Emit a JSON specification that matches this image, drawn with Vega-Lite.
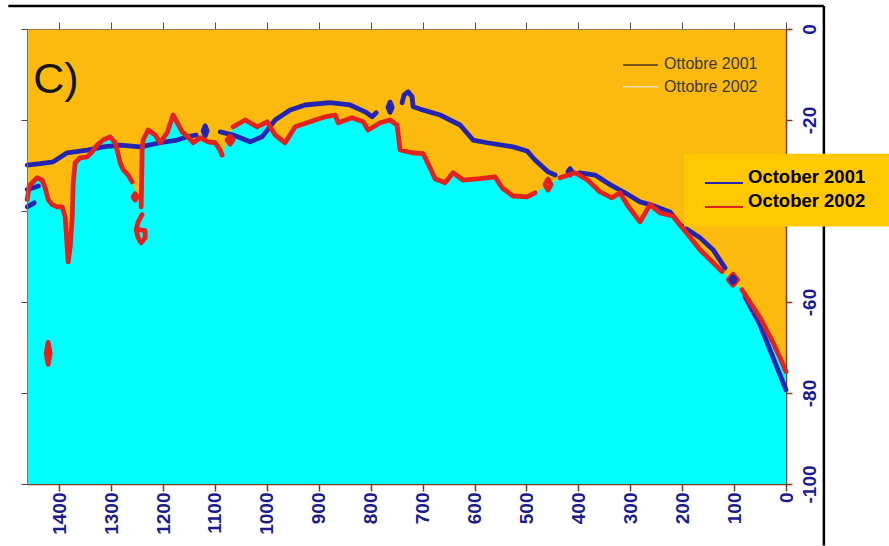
{
  "$schema": "https://vega.github.io/schema/vega-lite/v6.json",
  "width": 759,
  "height": 455,
  "autosize": {"type": "none"},
  "padding": {"left": 27, "top": 29, "right": 103, "bottom": 62},
  "background": "#ffffff",
  "config": {"view": {"fill": "#FCBA0E", "stroke": null}, "font": "Liberation Sans"},
  "datasets": {
    "profile": [
      {"s": "October 2001", "seg": "b1", "k": "main", "i": 0, "d": 1461.6, "z": -29.9},
      {"s": "October 2001", "seg": "b1", "k": "main", "i": 1, "d": 1436.6, "z": -29.6},
      {"s": "October 2001", "seg": "b1", "k": "main", "i": 2, "d": 1411.5, "z": -29.2},
      {"s": "October 2001", "seg": "b1", "k": "main", "i": 3, "d": 1384.6, "z": -27.2},
      {"s": "October 2001", "seg": "b1", "k": "main", "i": 4, "d": 1346.1, "z": -26.6},
      {"s": "October 2001", "seg": "b1", "k": "main", "i": 5, "d": 1315.3, "z": -25.9},
      {"s": "October 2001", "seg": "b1", "k": "main", "i": 6, "d": 1282.5, "z": -25.5},
      {"s": "October 2001", "seg": "b1", "k": "main", "i": 7, "d": 1244.0, "z": -25.9},
      {"s": "October 2001", "seg": "b1", "k": "main", "i": 8, "d": 1205.5, "z": -25.0},
      {"s": "October 2001", "seg": "b1", "k": "main", "i": 9, "d": 1172.8, "z": -24.4},
      {"s": "October 2001", "seg": "b1", "k": "main", "i": 10, "d": 1153.5, "z": -23.7},
      {"s": "October 2001", "seg": "b1", "k": "main", "i": 11, "d": 1136.2, "z": -23.3},
      {"s": "October 2001", "seg": "b2", "k": "main", "i": 0, "d": 1089.9, "z": -22.6},
      {"s": "October 2001", "seg": "b2", "k": "main", "i": 1, "d": 1064.9, "z": -23.3},
      {"s": "October 2001", "seg": "b2", "k": "main", "i": 2, "d": 1032.2, "z": -24.8},
      {"s": "October 2001", "seg": "b2", "k": "main", "i": 3, "d": 1009.1, "z": -23.7},
      {"s": "October 2001", "seg": "b2", "k": "main", "i": 4, "d": 984.0, "z": -20.0},
      {"s": "October 2001", "seg": "b2", "k": "main", "i": 5, "d": 955.1, "z": -17.8},
      {"s": "October 2001", "seg": "b2", "k": "main", "i": 6, "d": 926.3, "z": -16.7},
      {"s": "October 2001", "seg": "b2", "k": "main", "i": 7, "d": 878.1, "z": -16.2},
      {"s": "October 2001", "seg": "b2", "k": "main", "i": 8, "d": 839.6, "z": -16.7},
      {"s": "October 2001", "seg": "b2", "k": "main", "i": 9, "d": 810.7, "z": -18.2},
      {"s": "October 2001", "seg": "b2", "k": "main", "i": 10, "d": 797.2, "z": -19.3},
      {"s": "October 2001", "seg": "b2", "k": "main", "i": 11, "d": 789.5, "z": -18.4},
      {"s": "October 2001", "seg": "b3", "k": "main", "i": 0, "d": 739.5, "z": -16.2},
      {"s": "October 2001", "seg": "b3", "k": "main", "i": 1, "d": 735.6, "z": -14.5},
      {"s": "October 2001", "seg": "b3", "k": "main", "i": 2, "d": 727.9, "z": -13.8},
      {"s": "October 2001", "seg": "b3", "k": "main", "i": 3, "d": 720.2, "z": -14.9},
      {"s": "October 2001", "seg": "b3", "k": "main", "i": 4, "d": 718.3, "z": -17.1},
      {"s": "October 2001", "seg": "b3", "k": "main", "i": 5, "d": 704.8, "z": -17.6},
      {"s": "October 2001", "seg": "b3", "k": "main", "i": 6, "d": 666.3, "z": -18.9},
      {"s": "October 2001", "seg": "b3", "k": "main", "i": 7, "d": 627.8, "z": -21.1},
      {"s": "October 2001", "seg": "b3", "k": "main", "i": 8, "d": 602.7, "z": -24.4},
      {"s": "October 2001", "seg": "b3", "k": "main", "i": 9, "d": 575.8, "z": -25.0},
      {"s": "October 2001", "seg": "b3", "k": "main", "i": 10, "d": 525.7, "z": -25.9},
      {"s": "October 2001", "seg": "b3", "k": "main", "i": 11, "d": 498.8, "z": -26.8},
      {"s": "October 2001", "seg": "b3", "k": "main", "i": 12, "d": 483.4, "z": -28.8},
      {"s": "October 2001", "seg": "b3", "k": "main", "i": 13, "d": 458.3, "z": -31.4},
      {"s": "October 2001", "seg": "b3", "k": "main", "i": 14, "d": 444.8, "z": -32.1},
      {"s": "October 2001", "seg": "b4", "k": "main", "i": 0, "d": 396.7, "z": -31.6},
      {"s": "October 2001", "seg": "b4", "k": "main", "i": 1, "d": 367.8, "z": -32.1},
      {"s": "October 2001", "seg": "b4", "k": "main", "i": 2, "d": 338.9, "z": -34.2},
      {"s": "October 2001", "seg": "b4", "k": "main", "i": 3, "d": 310.0, "z": -36.0},
      {"s": "October 2001", "seg": "b4", "k": "main", "i": 4, "d": 281.2, "z": -38.0},
      {"s": "October 2001", "seg": "b4", "k": "main", "i": 5, "d": 261.9, "z": -38.6},
      {"s": "October 2001", "seg": "b4", "k": "main", "i": 6, "d": 223.4, "z": -40.2},
      {"s": "October 2001", "seg": "b4", "k": "main", "i": 7, "d": 204.1, "z": -43.0},
      {"s": "October 2001", "seg": "b4", "k": "main", "i": 8, "d": 165.6, "z": -45.9},
      {"s": "October 2001", "seg": "b4", "k": "main", "i": 9, "d": 140.6, "z": -48.5},
      {"s": "October 2001", "seg": "b4", "k": "main", "i": 10, "d": 117.5, "z": -52.5},
      {"s": "October 2001", "seg": "b5", "k": "main", "i": 0, "d": 79.0, "z": -58.8},
      {"s": "October 2001", "seg": "b5", "k": "main", "i": 1, "d": 50.1, "z": -65.0},
      {"s": "October 2001", "seg": "b5", "k": "main", "i": 2, "d": 30.8, "z": -70.5},
      {"s": "October 2001", "seg": "b5", "k": "main", "i": 3, "d": 15.4, "z": -74.9},
      {"s": "October 2001", "seg": "b5", "k": "main", "i": 4, "d": 0, "z": -79.3},
      {"s": "October 2001", "seg": "bl1", "k": "bit", "i": 0, "d": 1461.6, "z": -35.3},
      {"s": "October 2001", "seg": "bl1", "k": "bit", "i": 1, "d": 1450.1, "z": -34.9},
      {"s": "October 2001", "seg": "bl1", "k": "bit", "i": 2, "d": 1440.0, "z": -34.5},
      {"s": "October 2001", "seg": "bl2", "k": "bit", "i": 0, "d": 1461.6, "z": -39.1},
      {"s": "October 2001", "seg": "bl2", "k": "bit", "i": 1, "d": 1448.1, "z": -38.2},
      {"s": "October 2001", "seg": "B1", "k": "bit", "i": 0, "d": 1118.8, "z": -21.3},
      {"s": "October 2001", "seg": "B1", "k": "bit", "i": 1, "d": 1114.9, "z": -22.4},
      {"s": "October 2001", "seg": "B1", "k": "bit", "i": 2, "d": 1118.8, "z": -23.5},
      {"s": "October 2001", "seg": "B1", "k": "bit", "i": 3, "d": 1122.7, "z": -22.4},
      {"s": "October 2001", "seg": "B1", "k": "bit", "i": 4, "d": 1118.8, "z": -21.3},
      {"s": "October 2001", "seg": "B2", "k": "bit", "i": 0, "d": 762.6, "z": -16.1},
      {"s": "October 2001", "seg": "B2", "k": "bit", "i": 1, "d": 758.6, "z": -17.2},
      {"s": "October 2001", "seg": "B2", "k": "bit", "i": 2, "d": 762.6, "z": -18.3},
      {"s": "October 2001", "seg": "B2", "k": "bit", "i": 3, "d": 766.6, "z": -17.2},
      {"s": "October 2001", "seg": "B2", "k": "bit", "i": 4, "d": 762.6, "z": -16.1},
      {"s": "October 2001", "seg": "B3", "k": "bit", "i": 0, "d": 416.0, "z": -30.7},
      {"s": "October 2001", "seg": "B3", "k": "bit", "i": 1, "d": 412.0, "z": -31.4},
      {"s": "October 2001", "seg": "B3", "k": "bit", "i": 2, "d": 416.0, "z": -32.1},
      {"s": "October 2001", "seg": "B3", "k": "bit", "i": 3, "d": 420.0, "z": -31.4},
      {"s": "October 2001", "seg": "B3", "k": "bit", "i": 4, "d": 416.0, "z": -30.7},
      {"s": "October 2002", "seg": "r1", "k": "main", "i": 0, "d": 1461.6, "z": -37.5},
      {"s": "October 2002", "seg": "r1", "k": "main", "i": 1, "d": 1457.8, "z": -34.5},
      {"s": "October 2002", "seg": "r1", "k": "main", "i": 2, "d": 1442.3, "z": -32.7},
      {"s": "October 2002", "seg": "r1", "k": "main", "i": 3, "d": 1432.7, "z": -33.2},
      {"s": "October 2002", "seg": "r1", "k": "main", "i": 4, "d": 1426.9, "z": -34.9},
      {"s": "October 2002", "seg": "r1", "k": "main", "i": 5, "d": 1421.2, "z": -37.5},
      {"s": "October 2002", "seg": "r1", "k": "main", "i": 6, "d": 1413.5, "z": -38.6},
      {"s": "October 2002", "seg": "r1", "k": "main", "i": 7, "d": 1403.8, "z": -39.1},
      {"s": "October 2002", "seg": "r1", "k": "main", "i": 8, "d": 1394.2, "z": -39.1},
      {"s": "October 2002", "seg": "r1", "k": "main", "i": 9, "d": 1388.4, "z": -41.3},
      {"s": "October 2002", "seg": "r1", "k": "main", "i": 10, "d": 1382.6, "z": -51.2},
      {"s": "October 2002", "seg": "r1", "k": "main", "i": 11, "d": 1378.8, "z": -47.9},
      {"s": "October 2002", "seg": "r1", "k": "main", "i": 12, "d": 1374.9, "z": -41.3},
      {"s": "October 2002", "seg": "r1", "k": "main", "i": 13, "d": 1373.0, "z": -33.8},
      {"s": "October 2002", "seg": "r1", "k": "main", "i": 14, "d": 1369.2, "z": -29.4},
      {"s": "October 2002", "seg": "r1", "k": "main", "i": 15, "d": 1359.5, "z": -28.3},
      {"s": "October 2002", "seg": "r1", "k": "main", "i": 16, "d": 1346.1, "z": -28.1},
      {"s": "October 2002", "seg": "r1", "k": "main", "i": 17, "d": 1336.4, "z": -27.0},
      {"s": "October 2002", "seg": "r1", "k": "main", "i": 18, "d": 1326.8, "z": -25.5},
      {"s": "October 2002", "seg": "r1", "k": "main", "i": 19, "d": 1315.3, "z": -24.4},
      {"s": "October 2002", "seg": "r1", "k": "main", "i": 20, "d": 1301.8, "z": -23.7},
      {"s": "October 2002", "seg": "r1", "k": "main", "i": 21, "d": 1292.1, "z": -25.0},
      {"s": "October 2002", "seg": "r1", "k": "main", "i": 22, "d": 1288.3, "z": -26.6},
      {"s": "October 2002", "seg": "r1", "k": "main", "i": 23, "d": 1282.5, "z": -29.4},
      {"s": "October 2002", "seg": "r1", "k": "main", "i": 24, "d": 1276.7, "z": -30.9},
      {"s": "October 2002", "seg": "r1", "k": "main", "i": 25, "d": 1267.1, "z": -32.1},
      {"s": "October 2002", "seg": "r1", "k": "main", "i": 26, "d": 1259.4, "z": -33.6},
      {"s": "October 2002", "seg": "r2", "k": "main", "i": 0, "d": 1242.1, "z": -39.1},
      {"s": "October 2002", "seg": "r2", "k": "main", "i": 1, "d": 1240.2, "z": -26.6},
      {"s": "October 2002", "seg": "r2", "k": "main", "i": 2, "d": 1238.2, "z": -24.4},
      {"s": "October 2002", "seg": "r2", "k": "main", "i": 3, "d": 1228.6, "z": -22.2},
      {"s": "October 2002", "seg": "r2", "k": "main", "i": 4, "d": 1215.1, "z": -23.3},
      {"s": "October 2002", "seg": "r2", "k": "main", "i": 5, "d": 1205.5, "z": -25.0},
      {"s": "October 2002", "seg": "r2", "k": "main", "i": 6, "d": 1192.0, "z": -22.8},
      {"s": "October 2002", "seg": "r2", "k": "main", "i": 7, "d": 1180.5, "z": -18.9},
      {"s": "October 2002", "seg": "r2", "k": "main", "i": 8, "d": 1163.1, "z": -22.6},
      {"s": "October 2002", "seg": "r2", "k": "main", "i": 9, "d": 1151.6, "z": -23.7},
      {"s": "October 2002", "seg": "r2", "k": "main", "i": 10, "d": 1141.9, "z": -25.0},
      {"s": "October 2002", "seg": "r2", "k": "main", "i": 11, "d": 1128.5, "z": -23.9},
      {"s": "October 2002", "seg": "r2", "k": "main", "i": 12, "d": 1113.1, "z": -24.8},
      {"s": "October 2002", "seg": "r2", "k": "main", "i": 13, "d": 1099.6, "z": -25.0},
      {"s": "October 2002", "seg": "r2", "k": "main", "i": 14, "d": 1089.9, "z": -26.6},
      {"s": "October 2002", "seg": "r2", "k": "main", "i": 15, "d": 1086.1, "z": -27.7},
      {"s": "October 2002", "seg": "r3", "k": "main", "i": 0, "d": 1064.9, "z": -21.5},
      {"s": "October 2002", "seg": "r3", "k": "main", "i": 1, "d": 1041.8, "z": -20.0},
      {"s": "October 2002", "seg": "r3", "k": "main", "i": 2, "d": 1018.7, "z": -21.5},
      {"s": "October 2002", "seg": "r3", "k": "main", "i": 3, "d": 999.4, "z": -20.4},
      {"s": "October 2002", "seg": "r3", "k": "main", "i": 4, "d": 984.0, "z": -23.3},
      {"s": "October 2002", "seg": "r3", "k": "main", "i": 5, "d": 964.8, "z": -25.0},
      {"s": "October 2002", "seg": "r3", "k": "main", "i": 6, "d": 945.5, "z": -21.5},
      {"s": "October 2002", "seg": "r3", "k": "main", "i": 7, "d": 916.6, "z": -20.4},
      {"s": "October 2002", "seg": "r3", "k": "main", "i": 8, "d": 887.7, "z": -19.3},
      {"s": "October 2002", "seg": "r3", "k": "main", "i": 9, "d": 868.5, "z": -18.9},
      {"s": "October 2002", "seg": "r3", "k": "main", "i": 10, "d": 862.7, "z": -20.6},
      {"s": "October 2002", "seg": "r3", "k": "main", "i": 11, "d": 835.8, "z": -19.5},
      {"s": "October 2002", "seg": "r3", "k": "main", "i": 12, "d": 814.6, "z": -20.4},
      {"s": "October 2002", "seg": "r3", "k": "main", "i": 13, "d": 804.9, "z": -22.2},
      {"s": "October 2002", "seg": "r3", "k": "main", "i": 14, "d": 781.8, "z": -20.6},
      {"s": "October 2002", "seg": "r3", "k": "main", "i": 15, "d": 762.6, "z": -20.0},
      {"s": "October 2002", "seg": "r3", "k": "main", "i": 16, "d": 749.1, "z": -21.1},
      {"s": "October 2002", "seg": "r3", "k": "main", "i": 17, "d": 743.3, "z": -26.6},
      {"s": "October 2002", "seg": "r3", "k": "main", "i": 18, "d": 720.2, "z": -27.2},
      {"s": "October 2002", "seg": "r3", "k": "main", "i": 19, "d": 699.0, "z": -27.4},
      {"s": "October 2002", "seg": "r3", "k": "main", "i": 20, "d": 685.5, "z": -30.5},
      {"s": "October 2002", "seg": "r3", "k": "main", "i": 21, "d": 675.9, "z": -32.9},
      {"s": "October 2002", "seg": "r3", "k": "main", "i": 22, "d": 656.7, "z": -33.8},
      {"s": "October 2002", "seg": "r3", "k": "main", "i": 23, "d": 641.3, "z": -31.6},
      {"s": "October 2002", "seg": "r3", "k": "main", "i": 24, "d": 622.0, "z": -33.2},
      {"s": "October 2002", "seg": "r3", "k": "main", "i": 25, "d": 589.3, "z": -32.9},
      {"s": "October 2002", "seg": "r3", "k": "main", "i": 26, "d": 560.4, "z": -32.5},
      {"s": "October 2002", "seg": "r3", "k": "main", "i": 27, "d": 546.9, "z": -34.9},
      {"s": "October 2002", "seg": "r3", "k": "main", "i": 28, "d": 525.7, "z": -36.7},
      {"s": "October 2002", "seg": "r3", "k": "main", "i": 29, "d": 498.8, "z": -36.9},
      {"s": "October 2002", "seg": "r3", "k": "main", "i": 30, "d": 483.4, "z": -36.0},
      {"s": "October 2002", "seg": "r4", "k": "main", "i": 0, "d": 435.2, "z": -32.7},
      {"s": "October 2002", "seg": "r4", "k": "main", "i": 1, "d": 406.3, "z": -31.6},
      {"s": "October 2002", "seg": "r4", "k": "main", "i": 2, "d": 383.2, "z": -33.1},
      {"s": "October 2002", "seg": "r4", "k": "main", "i": 3, "d": 358.2, "z": -35.8},
      {"s": "October 2002", "seg": "r4", "k": "main", "i": 4, "d": 335.1, "z": -37.1},
      {"s": "October 2002", "seg": "r4", "k": "main", "i": 5, "d": 319.7, "z": -36.0},
      {"s": "October 2002", "seg": "r4", "k": "main", "i": 6, "d": 304.3, "z": -38.9},
      {"s": "October 2002", "seg": "r4", "k": "main", "i": 7, "d": 281.2, "z": -42.4},
      {"s": "October 2002", "seg": "r4", "k": "main", "i": 8, "d": 261.9, "z": -38.6},
      {"s": "October 2002", "seg": "r4", "k": "main", "i": 9, "d": 242.6, "z": -40.4},
      {"s": "October 2002", "seg": "r4", "k": "main", "i": 10, "d": 217.6, "z": -41.1},
      {"s": "October 2002", "seg": "r4", "k": "main", "i": 11, "d": 204.1, "z": -43.0},
      {"s": "October 2002", "seg": "r4", "k": "main", "i": 12, "d": 165.6, "z": -48.5},
      {"s": "October 2002", "seg": "r4", "k": "main", "i": 13, "d": 132.9, "z": -52.2},
      {"s": "October 2002", "seg": "r4", "k": "main", "i": 14, "d": 123.2, "z": -53.3},
      {"s": "October 2002", "seg": "r5", "k": "main", "i": 0, "d": 84.7, "z": -57.3},
      {"s": "October 2002", "seg": "r5", "k": "main", "i": 1, "d": 50.1, "z": -63.4},
      {"s": "October 2002", "seg": "r5", "k": "main", "i": 2, "d": 25.0, "z": -68.9},
      {"s": "October 2002", "seg": "r5", "k": "main", "i": 3, "d": 11.6, "z": -72.2},
      {"s": "October 2002", "seg": "r5", "k": "main", "i": 4, "d": 0, "z": -75.3},
      {"s": "October 2002", "seg": "R1", "k": "bit", "i": 0, "d": 1070.7, "z": -23.5},
      {"s": "October 2002", "seg": "R1", "k": "bit", "i": 1, "d": 1064.9, "z": -24.4},
      {"s": "October 2002", "seg": "R1", "k": "bit", "i": 2, "d": 1070.7, "z": -25.3},
      {"s": "October 2002", "seg": "R1", "k": "bit", "i": 3, "d": 1076.5, "z": -24.4},
      {"s": "October 2002", "seg": "R1", "k": "bit", "i": 4, "d": 1070.7, "z": -23.5},
      {"s": "October 2002", "seg": "R2", "k": "bit", "i": 0, "d": 1253.6, "z": -36.2},
      {"s": "October 2002", "seg": "R2", "k": "bit", "i": 1, "d": 1249.6, "z": -36.9},
      {"s": "October 2002", "seg": "R2", "k": "bit", "i": 2, "d": 1253.6, "z": -37.6},
      {"s": "October 2002", "seg": "R2", "k": "bit", "i": 3, "d": 1257.6, "z": -36.9},
      {"s": "October 2002", "seg": "R2", "k": "bit", "i": 4, "d": 1253.6, "z": -36.2},
      {"s": "October 2002", "seg": "R3", "k": "bit", "i": 0, "d": 1240.2, "z": -40.8},
      {"s": "October 2002", "seg": "R3", "k": "bit", "i": 1, "d": 1247.9, "z": -42.4},
      {"s": "October 2002", "seg": "R3", "k": "bit", "i": 2, "d": 1251.7, "z": -44.1},
      {"s": "October 2002", "seg": "R3", "k": "bit", "i": 3, "d": 1247.9, "z": -45.9},
      {"s": "October 2002", "seg": "R3", "k": "bit", "i": 4, "d": 1242.1, "z": -47.0},
      {"s": "October 2002", "seg": "R3", "k": "bit", "i": 5, "d": 1234.4, "z": -45.9},
      {"s": "October 2002", "seg": "R3", "k": "bit", "i": 6, "d": 1234.4, "z": -44.3},
      {"s": "October 2002", "seg": "R3", "k": "bit", "i": 7, "d": 1245.9, "z": -44.1},
      {"s": "October 2002", "seg": "R4", "k": "bit", "i": 0, "d": 458.3, "z": -33.0},
      {"s": "October 2002", "seg": "R4", "k": "bit", "i": 1, "d": 452.3, "z": -34.2},
      {"s": "October 2002", "seg": "R4", "k": "bit", "i": 2, "d": 458.3, "z": -35.4},
      {"s": "October 2002", "seg": "R4", "k": "bit", "i": 3, "d": 464.3, "z": -34.2},
      {"s": "October 2002", "seg": "R4", "k": "bit", "i": 4, "d": 458.3, "z": -33.0},
      {"s": "October 2002", "seg": "R5", "k": "bit", "i": 0, "d": 102.1, "z": -53.9},
      {"s": "October 2002", "seg": "R5", "k": "bit", "i": 1, "d": 93.1, "z": -55.1},
      {"s": "October 2002", "seg": "R5", "k": "bit", "i": 2, "d": 102.1, "z": -56.3},
      {"s": "October 2002", "seg": "R5", "k": "bit", "i": 3, "d": 111.1, "z": -55.1},
      {"s": "October 2002", "seg": "R5", "k": "bit", "i": 4, "d": 102.1, "z": -53.9},
      {"s": "October 2002", "seg": "R6", "k": "bit", "i": 0, "d": 1421.2, "z": -68.9},
      {"s": "October 2002", "seg": "R6", "k": "bit", "i": 1, "d": 1417.3, "z": -71.3},
      {"s": "October 2002", "seg": "R6", "k": "bit", "i": 2, "d": 1421.2, "z": -73.7},
      {"s": "October 2002", "seg": "R6", "k": "bit", "i": 3, "d": 1425.1, "z": -71.3},
      {"s": "October 2002", "seg": "R6", "k": "bit", "i": 4, "d": 1421.2, "z": -68.9},
      {"s": "October 2001", "seg": "B4", "k": "bit", "i": 0, "d": 102.1, "z": -54.5},
      {"s": "October 2001", "seg": "B4", "k": "bit", "i": 1, "d": 98.1, "z": -55.1},
      {"s": "October 2001", "seg": "B4", "k": "bit", "i": 2, "d": 102.1, "z": -55.7},
      {"s": "October 2001", "seg": "B4", "k": "bit", "i": 3, "d": 106.1, "z": -55.1},
      {"s": "October 2001", "seg": "B4", "k": "bit", "i": 4, "d": 102.1, "z": -54.5}
    ]
  },
  "resolve": {"axis": {"x": "independent", "y": "independent"}},
  "layer": [
    {
      "data": {"name": "profile"},
      "transform": [{"filter": "datum.s == 'October 2002' && datum.k == 'main'"}],
      "mark": {"type": "area", "color": "#00FFFF", "opacity": 1},
      "encoding": {
        "x": {
          "field": "d", "type": "quantitative",
          "scale": {"domain": [0, 1462], "reverse": true, "nice": false, "zero": false},
          "axis": {
            "orient": "bottom", "title": null, "grid": false,
            "values": [0, 100, 200, 300, 400, 500, 600, 700, 800, 900, 1000, 1100, 1200, 1300, 1400],
            "labelExpr": "'' + datum.value",
            "labelAngle": 270, "labelAlign": "right", "labelBaseline": "middle",
            "labelFont": "Liberation Sans", "labelFontSize": 19, "labelFontWeight": "bold",
            "labelColor": "#1b1b8e", "labelPadding": 1, "labelOverlap": false, "labelFlush": false,
            "domainColor": "#7c3a22", "domainWidth": 1.5, "tickColor": "#7c3a22", "tickSize": 7, "tickWidth": 1.5
          }
        },
        "y": {
          "field": "z", "type": "quantitative",
          "scale": {"domain": [-100, 0], "nice": false, "zero": false},
          "axis": {
            "orient": "right", "title": null, "grid": false,
            "values": [0, -20, -40, -60, -80, -100],
            "labelExpr": "'' + datum.value",
            "labelAngle": 270, "labelAlign": "center", "labelBaseline": "top",
            "labelFont": "Liberation Sans", "labelFontSize": 19, "labelFontWeight": "bold",
            "labelColor": "#1b1b8e", "labelPadding": 8, "labelOverlap": false, "labelFlush": false,
            "domainColor": "#7c3a22", "domainWidth": 1.5, "tickColor": "#7c3a22", "tickSize": 6, "tickWidth": 1.5
          }
        },
        "y2": {"datum": -100}
      }
    },
    {
      "data": {"name": "profile"},
      "mark": {"type": "line", "strokeWidth": 4.8, "strokeCap": "round", "strokeJoin": "round"},
      "encoding": {
        "x": {
          "field": "d", "type": "quantitative",
          "scale": {"domain": [0, 1462], "reverse": true, "nice": false, "zero": false},
          "axis": {
            "orient": "top", "title": null, "grid": false, "labels": false, "zindex": 1,
            "values": [0, 100, 200, 300, 400, 500, 600, 700, 800, 900, 1000, 1100, 1200, 1300, 1400],
            "domainColor": "#9a7a4a", "domainWidth": 1, "tickColor": "#5a4a3a", "tickSize": 7, "tickWidth": 1
          }
        },
        "y": {
          "field": "z", "type": "quantitative",
          "scale": {"domain": [-100, 0], "nice": false, "zero": false},
          "axis": {
            "orient": "left", "title": null, "grid": false, "labels": false, "zindex": 1,
            "values": [0, -20, -40, -60, -80, -100],
            "domainColor": "#6f7a6a", "domainWidth": 1, "tickColor": "#4a4a4a", "tickSize": 6, "tickWidth": 1
          }
        },
        "color": {
          "field": "s", "type": "nominal",
          "scale": {"domain": ["October 2001", "October 2002"], "range": ["#2424b4", "#e3221e"]},
          "legend": {
            "title": null, "orient": "none", "legendX": 677, "legendY": 134,
            "padding": 0, "strokeColor": null,
            "symbolType": "stroke", "symbolSize": 1444, "symbolStrokeWidth": 2, "symbolOffset": 0,
            "labelFont": "Liberation Sans", "labelFontSize": 18.5, "labelFontWeight": "bold",
            "labelColor": "#000000", "labelBaseline": "alphabetic", "labelOffset": 4,
            "rowPadding": -3, "labelLimit": 300
          }
        },
        "detail": {"field": "seg"},
        "order": {"field": "i", "type": "quantitative"}
      }
    },
    {
      "data": {"values": [{}]},
      "mark": {"type": "text", "text": "C)", "font": "Liberation Sans", "fontSize": 43, "align": "left", "baseline": "alphabetic", "color": "#151515"},
      "encoding": {
        "x": {"datum": 1450, "axis": null},
        "y": {"datum": -14.05, "axis": null}
      }
    },
    {
      "data": {"values": [{}]},
      "mark": {"type": "rule", "color": "#4e3428", "strokeWidth": 1.5},
      "encoding": {
        "x": {"datum": 313.9, "axis": null},
        "x2": {"datum": 246.5},
        "y": {"datum": -7.9, "axis": null}
      }
    },
    {
      "data": {"values": [{}]},
      "mark": {"type": "rule", "color": "#f4e0ae", "strokeWidth": 1.5},
      "encoding": {
        "x": {"datum": 313.9, "axis": null},
        "x2": {"datum": 246.5},
        "y": {"datum": -12.7, "axis": null}
      }
    },
    {
      "data": {"values": [{}]},
      "mark": {"type": "text", "text": "Ottobre 2001", "font": "Liberation Sans", "fontSize": 16, "align": "left", "baseline": "alphabetic", "color": "#3a3a3a"},
      "encoding": {
        "x": {"datum": 234.9, "axis": null},
        "y": {"datum": -8.9, "axis": null}
      }
    },
    {
      "data": {"values": [{}]},
      "mark": {"type": "text", "text": "Ottobre 2002", "font": "Liberation Sans", "fontSize": 16, "align": "left", "baseline": "alphabetic", "color": "#3a3a3a"},
      "encoding": {
        "x": {"datum": 234.9, "axis": null},
        "y": {"datum": -13.8, "axis": null}
      }
    },
    {
      "data": {"values": [{}]},
      "mark": {"type": "rule", "color": "#000000", "strokeWidth": 2.5},
      "encoding": {
        "x": {"datum": 1498, "axis": null},
        "x2": {"datum": -73},
        "y": {"datum": 5.05, "axis": null}
      }
    },
    {
      "data": {"values": [{}]},
      "mark": {"type": "rule", "color": "#000000", "strokeWidth": 2.5},
      "encoding": {
        "x": {"datum": -73, "axis": null},
        "y": {"datum": 5.05, "axis": null},
        "y2": {"datum": -113.5}
      }
    },
    {
      "data": {"values": [{}]},
      "mark": {"type": "rect", "color": "#FFC800"},
      "encoding": {
        "x": {"datum": 196.4, "axis": null},
        "x2": {"datum": -198.4},
        "y": {"datum": -27.44, "axis": null},
        "y2": {"datum": -43.4}
      }
    }
  ]
}
